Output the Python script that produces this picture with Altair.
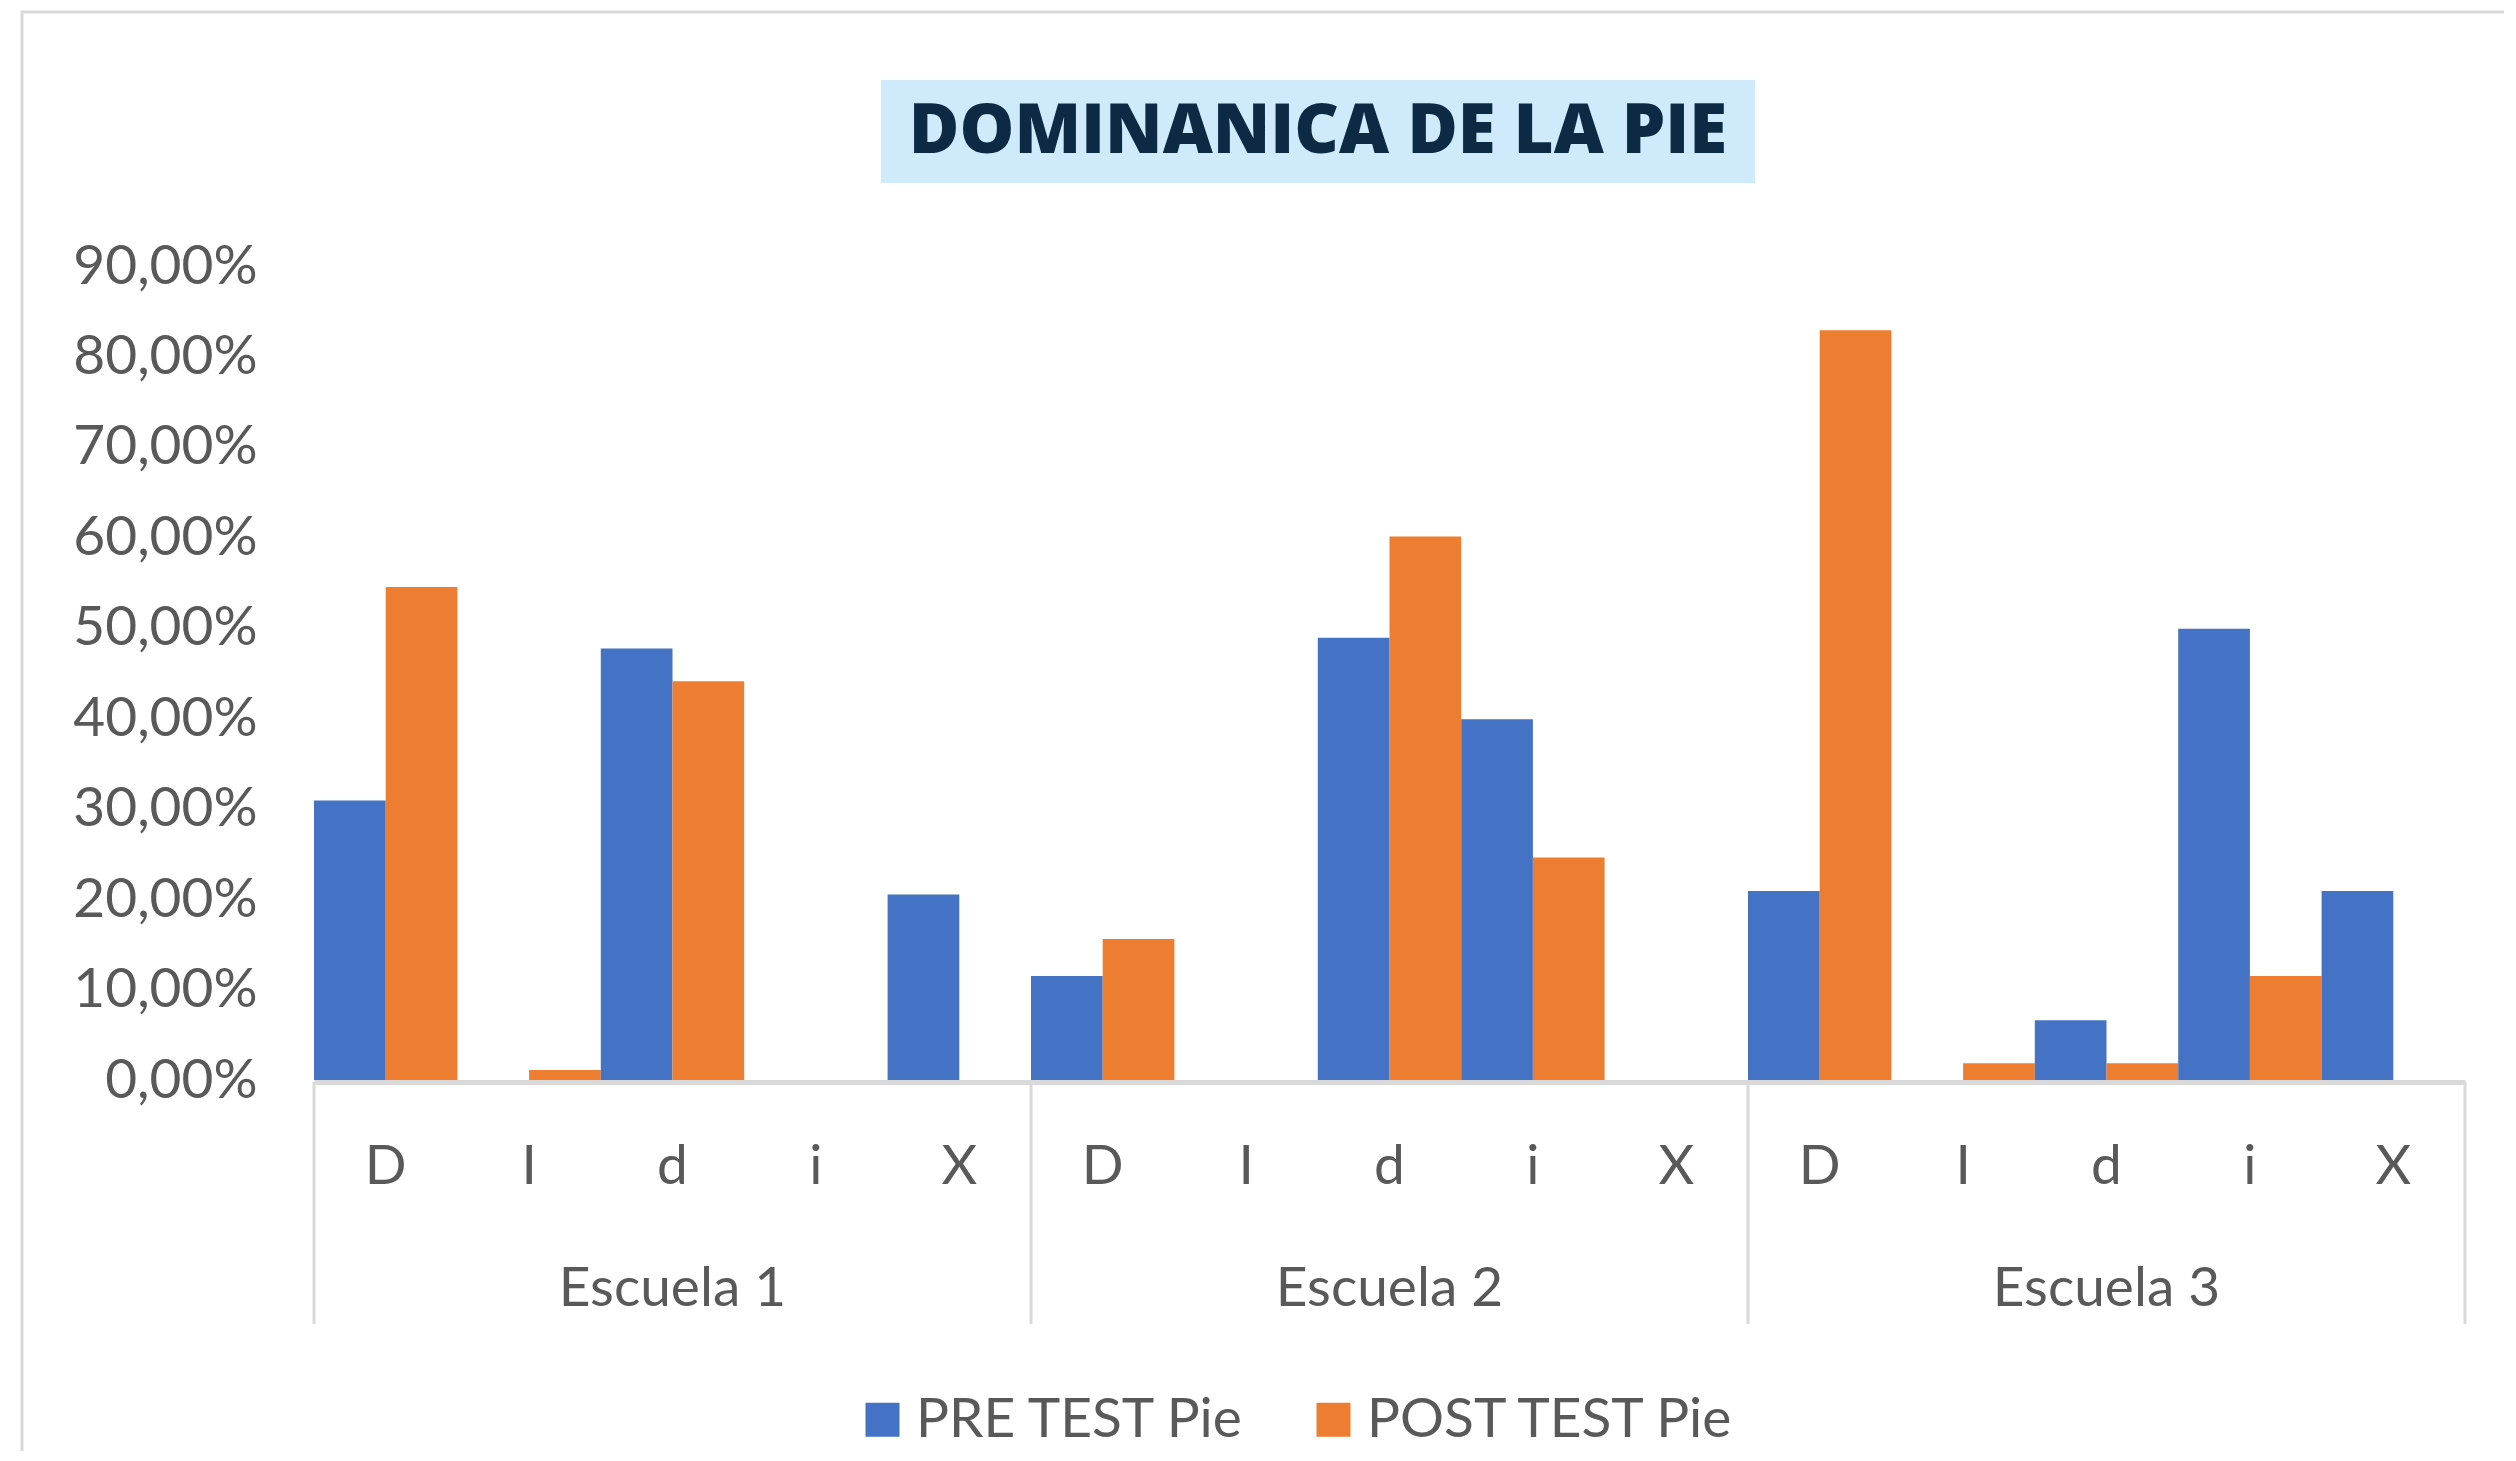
import altair as alt
import pandas as pd

# ---- data ----
schools = ["Escuela 1", "Escuela 2", "Escuela 3"]
letters = ["D", "I", "d", "i", "X"]
series = ["PRE TEST Pie", "POST TEST Pie"]
pre_values = [0.309, 0.0, 0.477, 0.0, 0.205,
              0.115, 0.0, 0.489, 0.399, 0.0,
              0.209, 0.0, 0.066, 0.499, 0.209]
post_values = [0.545, 0.011, 0.441, 0.0, 0.0,
               0.156, 0.0, 0.601, 0.246, 0.0,
               0.829, 0.0185, 0.0185, 0.115, 0.0]
y_ticks = [0.0, 0.1, 0.2, 0.3, 0.4, 0.5, 0.6, 0.7, 0.8, 0.9]
colors = ["#4472c4", "#ed7d31"]
title_text = "DOMINANICA DE LA PIE"

# ---- tables ----
keys = [f"{s}|{l}" for s in schools for l in letters]
rows = []
for i, k in enumerate(keys):
    rows.append({"key": k, "series": series[0], "value": pre_values[i]})
    rows.append({"key": k, "series": series[1], "value": post_values[i]})
df = pd.DataFrame(rows)
school_df = pd.DataFrame({"school": schools, "key": [f"{s}|d" for s in schools]})
div_df = pd.DataFrame({"key": [f"{s}|D" for s in schools]})
end_df = pd.DataFrame({"key": [keys[-1]]})
title_df = pd.DataFrame({"title": [title_text]})

W, H = 2151, 814
FONT = "Lato"
GRAY = "#595959"
LINE = "#d9d9d9"

xscale = alt.Scale(domain=keys, paddingInner=0, paddingOuter=0)
x_axis = alt.Axis(title=None, labelExpr="substring(datum.label, length(datum.label)-1)",
                  labelAngle=0, ticks=False, domainColor=LINE, domainWidth=5, offset=2,
                  labelFont=FONT, labelFontSize=55, labelColor=GRAY, labelPadding=84,
                  labelBaseline="middle", labelLimit=0)

frame = alt.Chart(title_df).mark_rect(filled=False, stroke=LINE, strokeWidth=3).encode(
    x=alt.value(-292), x2=alt.value(W + 400), y=alt.value(-254), y2=alt.value(H + 700)
)

title_box = alt.Chart(title_df).mark_rect(color="#cfeafb").encode(
    x=alt.value(567), x2=alt.value(1441), y=alt.value(-186), y2=alt.value(-83)
)
title_txt = alt.Chart(title_df).mark_text(
    font="Open Sans", fontWeight=800, fontSize=69, color="#0c2a44", align="center", baseline="middle"
).encode(x=alt.value(1004), y=alt.value(-134), text="title:N")

bars = alt.Chart(df).mark_bar().encode(
    x=alt.X("key:N", scale=xscale, sort=keys, axis=x_axis),
    xOffset=alt.XOffset("series:N", sort=series, scale=alt.Scale(paddingInner=0, paddingOuter=0)),
    y=alt.Y("value:Q", scale=alt.Scale(domain=[0, 0.9], nice=False),
            axis=alt.Axis(title=None, values=y_ticks,
                          labelExpr="replace(format(datum.value, '.2%'), '.', ',')",
                          domain=False, ticks=False, grid=False, labelFont=FONT,
                          labelFontSize=55, labelColor=GRAY, labelPadding=57, labelLimit=0)),
    color=alt.Color("series:N", sort=series, scale=alt.Scale(domain=series, range=colors),
                    legend=alt.Legend(title=None, orient="none", legendX=541, legendY=1126,
                                      direction="horizontal", symbolType="square",
                                      symbolSize=1156, symbolStrokeWidth=0, labelFont=FONT,
                                      labelFontSize=55, labelColor=GRAY, labelOffset=6,
                                      columnPadding=60, labelLimit=0)),
)

school_txt = alt.Chart(school_df).mark_text(
    font=FONT, fontSize=55, color=GRAY, baseline="middle", align="center"
).encode(x=alt.X("key:N", scale=xscale, sort=keys, axis=x_axis), y=alt.value(H + 209), text="school:N")

rules = alt.Chart(div_df).mark_rule(color=LINE, strokeWidth=3).encode(
    x=alt.X("key:N", scale=xscale, sort=keys, bandPosition=0, axis=x_axis),
    y=alt.value(H + 2), y2=alt.value(H + 244)
)
rule_end = alt.Chart(end_df).mark_rule(color=LINE, strokeWidth=3).encode(
    x=alt.X("key:N", scale=xscale, sort=keys, bandPosition=1, axis=x_axis),
    y=alt.value(H + 2), y2=alt.value(H + 244)
)

chart = alt.layer(frame, title_box, title_txt, bars, rules, rule_end, school_txt).properties(
    width=W, height=H,
    padding={"left": 306, "top": 258, "right": 2496 - 306 - W, "bottom": 1443 - 258 - H},
    autosize=alt.AutoSizeParams(type="none"),
    background="white",
).configure_view(stroke=None)

chart.save("out.html", embed_options={"renderer": "svg", "actions": False})
